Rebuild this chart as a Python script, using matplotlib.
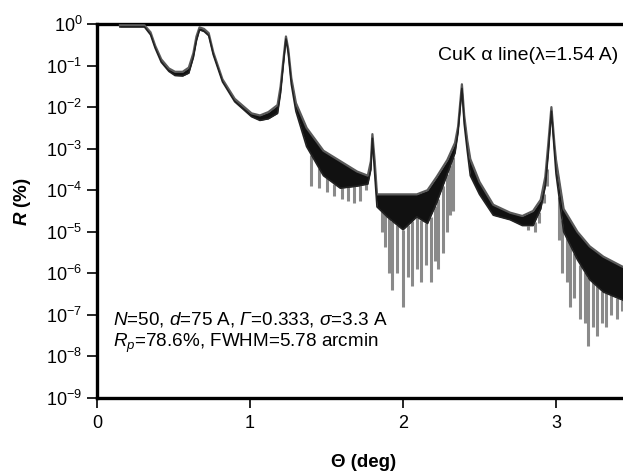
import numpy as np
import matplotlib
matplotlib.use("Agg")
import matplotlib.pyplot as plt
from matplotlib.ticker import LogLocator, FixedLocator

plt.rcParams['font.family'] = ['Liberation Sans', 'DejaVu Sans']
plt.rcParams['mathtext.fontset'] = 'custom'
plt.rcParams['mathtext.rm'] = 'Liberation Sans'
plt.rcParams['mathtext.it'] = 'Liberation Sans:italic'
plt.rcParams['mathtext.cal'] = 'Liberation Sans:italic'
plt.rcParams['mathtext.bf'] = 'Liberation Sans:bold'
plt.rcParams['mathtext.bfit'] = 'Liberation Sans:bold:italic'

# Envelope of the reflectivity curve (theta in deg, log10 R in %)
env_theta = [0.15, 0.31, 0.35, 0.38, 0.42, 0.47, 0.51, 0.56, 0.60, 0.63, 0.65, 0.67,
             0.70, 0.73, 0.76, 0.82, 0.90, 1.01, 1.065, 1.12, 1.18, 1.20, 1.22, 1.235,
             1.25, 1.27, 1.30, 1.37, 1.48, 1.59, 1.70, 1.77, 1.79, 1.80, 1.815, 1.83,
             1.90, 2.00, 2.09, 2.16, 2.22, 2.29, 2.34, 2.36, 2.385, 2.40, 2.42, 2.44,
             2.50, 2.59, 2.70, 2.78, 2.85, 2.90, 2.93, 2.95, 2.97, 2.99, 3.00, 3.05,
             3.14, 3.22, 3.31, 3.44]
env_upper = [-0.03, -0.03, -0.20, -0.52, -0.85, -1.07, -1.15, -1.15, -1.05, -0.70, -0.30, -0.08,
             -0.12, -0.22, -0.68, -1.33, -1.80, -2.15, -2.20, -2.12, -1.95, -1.50, -0.80, -0.30,
             -0.60, -1.30, -1.90, -2.50, -3.05, -3.30, -3.55, -3.65, -3.30, -2.65, -3.30, -4.10,
             -4.10, -4.10, -4.10, -4.00, -3.68, -3.27, -2.86, -2.47, -1.45, -2.20, -2.80, -3.25,
             -3.80, -4.35, -4.54, -4.62, -4.50, -4.23, -3.68, -2.86, -2.00, -2.90, -3.27, -4.45,
             -5.00, -5.35, -5.60, -5.85]
env_lower = [-0.07, -0.07, -0.26, -0.58, -0.92, -1.14, -1.24, -1.25, -1.18, -0.80, -0.40, -0.14,
             -0.18, -0.28, -0.74, -1.39, -1.87, -2.23, -2.32, -2.28, -2.15, -1.65, -0.90, -0.36,
             -0.70, -1.45, -2.10, -2.95, -3.65, -3.95, -3.90, -3.85, -3.50, -2.75, -3.60, -4.40,
             -4.65, -4.95, -4.64, -4.80, -4.30, -3.60, -3.10, -2.60, -1.55, -2.40, -3.05, -3.65,
             -4.10, -4.60, -4.71, -4.85, -4.85, -4.45, -3.90, -3.10, -2.10, -3.10, -3.60, -5.00,
             -5.67, -6.15, -6.45, -6.65]

# Deep fringe minima visible as grey spikes (theta in deg, log10 R in %)
spike_theta = [1.40, 1.45, 1.50, 1.55, 1.60, 1.64, 1.68, 1.72, 1.76,
               1.86, 1.88, 1.91, 1.93, 1.96, 2.00, 2.03, 2.06, 2.09, 2.12, 2.15, 2.18,
               2.21, 2.23, 2.26, 2.29, 2.31, 2.33,
               2.82, 2.86, 2.89, 2.92, 2.94,
               3.02, 3.04, 3.07, 3.09, 3.12, 3.16, 3.19, 3.21, 3.24, 3.27, 3.30, 3.33,
               3.36, 3.40, 3.43]
spike_min = [-3.90, -3.95, -4.05, -4.15, -4.20, -4.25, -4.30, -4.25, -4.00,
             -5.00, -5.36, -6.00, -6.40, -6.00, -6.80, -6.10, -6.30, -5.90, -6.20, -5.80, -6.20,
             -5.70, -5.90, -5.50, -5.00, -4.60, -4.50,
             -4.95, -5.00, -4.80, -4.30, -3.90,
             -5.20, -6.00, -6.20, -6.80, -6.60, -7.10, -7.20, -7.76, -7.30, -7.50, -7.20, -7.28,
             -7.00, -7.10, -6.90]

x_ticks = [0, 1, 2, 3]

fig = plt.figure(figsize=(6.23, 4.73), dpi=100)
ax = fig.add_axes([97/623, 75/473, 1 - 97/623, (398 - 24)/473])

et = np.array(env_theta)
eu = 10.0 ** np.array(env_upper)
el = 10.0 ** np.array(env_lower)
st = np.array(spike_theta)
sm = 10.0 ** np.array(spike_min)
s_top = 10.0 ** np.interp(st, et, np.array(env_lower))

ax.vlines(st, sm, s_top, colors='#8a8a8a', linewidth=2.2, zorder=2)
ax.fill_between(et, el, eu, color='#111111', linewidth=0, zorder=3)
ax.plot(et, eu, color='#5a5a5a', linewidth=1.6, zorder=4)
ax.plot(et, el, color='#222222', linewidth=1.2, zorder=4)

ax.set_yscale('log')
ax.set_ylim(1e-9, 1e0)
ax.set_xlim(0, 526/153)
ax.yaxis.set_major_locator(LogLocator(base=10, numticks=12))
ax.yaxis.set_minor_locator(FixedLocator([]))
ax.xaxis.set_major_locator(FixedLocator(x_ticks))
ax.set_xticklabels([str(t) for t in x_ticks])

for s in ['left', 'bottom', 'top']:
    ax.spines[s].set_linewidth(2.4)
ax.spines['right'].set_visible(False)
ax.tick_params(axis='both', which='major', direction='out', length=7.5, width=1.2,
               labelsize=13)
ax.tick_params(axis='x', pad=4.5)
ax.tick_params(axis='y', pad=3)

ax.set_ylabel(r'$\mathbfit{R}$ (%)', fontsize=13.5, fontweight='bold')
ax.yaxis.set_label_coords(-0.121, 0.525)
ax.set_xlabel('Θ (deg)', fontsize=13.5, fontweight='bold')
ax.xaxis.set_label_coords(0.5076, -0.150)

ax.text(0.9905, 0.917, 'CuK α line(λ=1.54 A)', transform=ax.transAxes,
        ha='right', va='center', fontsize=14)
ax.text(0.0304, 0.21, r'$N$=50, $d$=75 A, $\mathcal{Γ}$=0.333, $\sigma$=3.3 A',
        transform=ax.transAxes, ha='left', va='center', fontsize=13.6)
ax.text(0.0304, 0.146, r'$R_p$=78.6%, FWHM=5.78 arcmin', transform=ax.transAxes,
        ha='left', va='center', fontsize=13.6)

fig.savefig('out.png', dpi=100)
